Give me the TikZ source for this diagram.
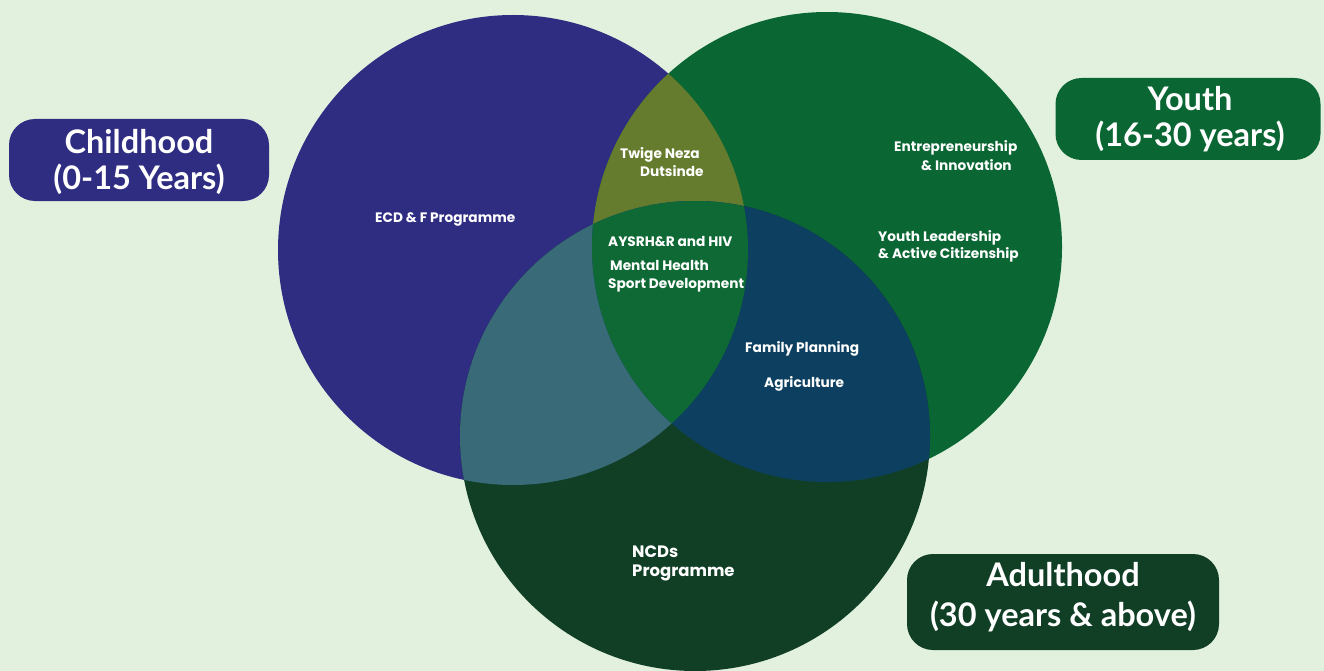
\documentclass[tikz,border=0pt]{standalone}
\usepackage{fontspec}
\newfontfamily\pop{Poppins}
\newfontfamily\lato{Lato}
\definecolor{bg}{HTML}{E2F1DE}
\definecolor{cblue}{HTML}{2E2D82}
\definecolor{cgreen}{HTML}{0A6633}
\definecolor{cdark}{HTML}{113F26}
\definecolor{colive}{HTML}{657B2E}
\definecolor{cteal}{HTML}{386A78}
\definecolor{cnavy}{HTML}{0C3F60}
\definecolor{ccenter}{HTML}{0E6934}
\tikzset{
  inlabel/.style={text=white, font=\pop\bfseries\fontsize{13.7}{16}\selectfont, inner sep=0pt, anchor=west},
  agebox/.style={rounded corners=26pt, draw=none},
  agetext/.style={text=white, align=center, inner sep=0pt,
    font=\lato\bfseries\fontsize{32.5}{36}\selectfont}
}
\begin{document}
\begin{tikzpicture}[x=1pt,y=-1pt]
\useasboundingbox (0,0) rectangle (1324,671);
\fill[bg] (0,0) rectangle (1324,671);
% circles
\coordinate (B) at (513,250);
\coordinate (G) at (827,247);
\coordinate (D) at (695,436);
\fill[cblue] (B) circle[radius=235];
\fill[cgreen] (G) circle[radius=235];
\fill[cdark] (D) circle[radius=235];
\begin{scope}
  \clip (B) circle[radius=235];
  \fill[colive] (G) circle[radius=235];
  \fill[cteal] (D) circle[radius=235];
\end{scope}
\begin{scope}
  \clip (G) circle[radius=235];
  \fill[cnavy] (D) circle[radius=235];
  \clip (B) circle[radius=235];
  \fill[ccenter] (D) circle[radius=235];
\end{scope}
% inner labels
\node[inlabel] (ecd) at (375,219) {ECD \& F Programme};
\node[inlabel] (tw1) at (620,155) {Twige Neza};
\node[inlabel] (tw2) at (640,171) {Dutsinde};
\node[inlabel] (en1) at (894,148) {Entrepreneurship};
\node[inlabel] (en2) at (921,165) {\& Innovation};
\node[inlabel] (yl1) at (878,238) {Youth Leadership};
\node[inlabel] (yl2) at (878,255) {\& Active Citizenship};
\node[inlabel] (ay) at (608,242) {AYSRH\&R and HIV};
\node[inlabel] (mh) at (610,265) {Mental Health};
\node[inlabel] (sd) at (608,285) {Sport Development};
\node[inlabel] (fp) at (745,349) {Family Planning};
\node[inlabel] (ag) at (764,384) {Agriculture};
\node[inlabel, font=\pop\bfseries\fontsize{16.5}{19}\selectfont] (ncd1) at (632,552) {NCDs};
\node[inlabel, font=\pop\bfseries\fontsize{16.5}{19}\selectfont] (ncd2) at (632,573) {Programme};
% age boxes
\node[agebox, fill=cblue, minimum width=260pt, minimum height=82pt] (child) at (139,160) {};
\node[agetext] (childt) at (139,162) {Childhood\\(0-15 Years)};
\node[agebox, fill=cgreen, minimum width=265pt, minimum height=82pt] (youth) at (1188,119) {};
\node[agetext] (youtht) at (1190,119) {Youth\\(16-30 years)};
\node[agebox, fill=cdark, minimum width=312pt, minimum height=96pt] (adult) at (1063,602) {};
\node[agetext, font=\lato\bfseries\fontsize{32.5}{40}\selectfont] (adultt) at (1063,597) {Adulthood\\(30 years \& above)};
\end{tikzpicture}
\end{document}
